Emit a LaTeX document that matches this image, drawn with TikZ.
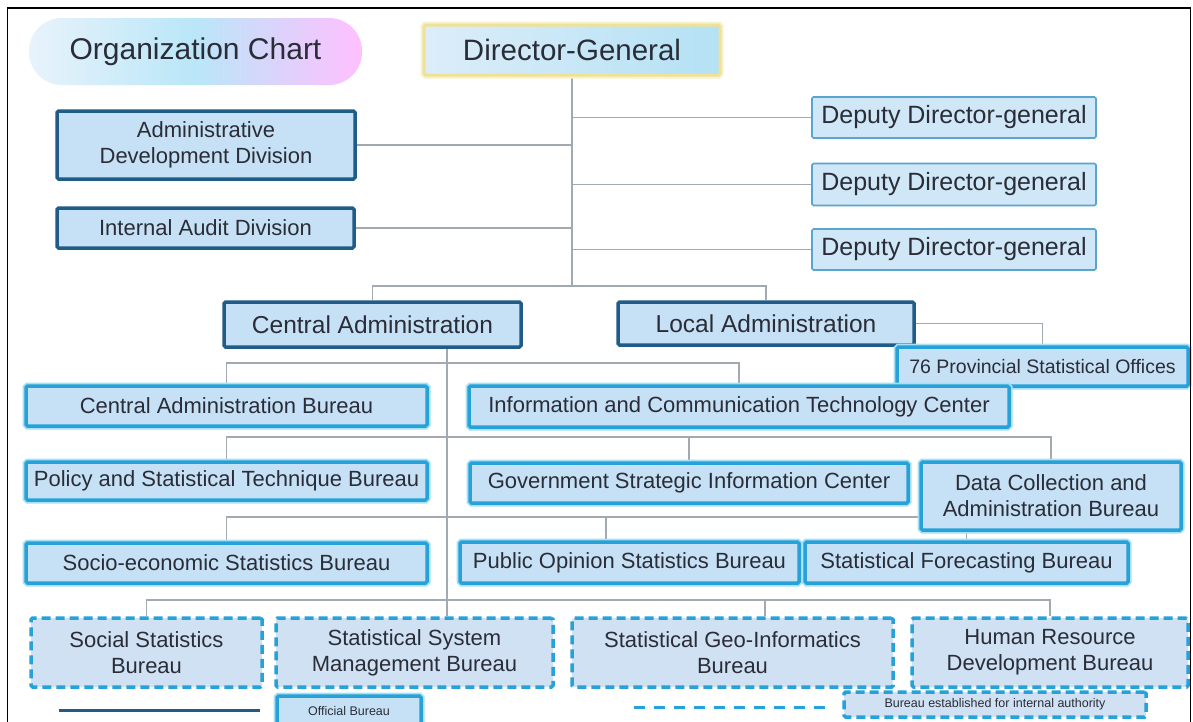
\documentclass[tikz,border=0pt]{standalone}
\usepackage{fontspec}
\setmainfont{Liberation Sans}
\usetikzlibrary{backgrounds}
\definecolor{txt}{HTML}{2A2D38}
\definecolor{darkb}{HTML}{1F5C88}
\definecolor{cyanb}{HTML}{27A2D8}
\definecolor{glow}{HTML}{A8E0F6}
\definecolor{boxfill}{HTML}{C6E1F5}
\definecolor{dashfill}{HTML}{D0E1F3}
\definecolor{depb}{HTML}{5AA5D0}
\definecolor{depfill}{HTML}{CFE7F6}
\definecolor{dgborder}{HTML}{EFE196}
\definecolor{dgglow}{HTML}{F8F2CC}
\definecolor{connc}{HTML}{A3A9B0}
\tikzset{
  box/.style={rectangle, inner sep=0pt, align=center, text=txt, rounded corners=1.5pt,
    font=\fontsize{22}{26}\selectfont},
  darkbox/.style={box, draw=darkb, line width=3.5pt, fill=boxfill},
  cyanbox/.style={box, draw=cyanb, line width=3.5pt, fill=boxfill,
    preaction={draw=glow, line width=7pt}},
  depbox/.style={box, draw=depb, line width=1.6pt, fill=depfill,
    font=\fontsize{25}{29}\selectfont},
  dashbox/.style={box, draw=cyanb, line width=3.5pt, fill=dashfill,
    dash pattern=on 9pt off 5pt},
  dgbox/.style={box, draw=dgborder, line width=3pt, left color=white!40!boxfill,
    right color=glow!70!cyanb!60, font=\fontsize{29.5}{34}\selectfont,
    preaction={draw=dgglow, line width=7pt}},
  ogbox/.style={box, draw=none, rounded corners=33pt, left color=white!60!boxfill,
    right color=magenta!25!white, middle color=glow!80!white,
    font=\fontsize{30}{34}\selectfont},
  conn/.style={draw=connc, line width=1.3pt},
  legsolid/.style={draw=darkb, line width=3pt},
  legdash/.style={draw=cyanb, line width=3pt, dash pattern=on 11pt off 9pt},
}
\begin{document}
\begin{tikzpicture}[x=1pt,y=-1pt]
\useasboundingbox (0,0) rectangle (1193,721);
\clip (0,0) rectangle (1193,721);

% nodes
\node[ogbox, minimum width=333pt, minimum height=67pt] (og) at (195.5,51.5) {Organization Chart};
\node[dgbox, minimum width=296pt, minimum height=50pt] (dg) at (572,50) {Director-General};
\node[darkbox, minimum width=298pt, minimum height=68pt] (adm) at (206,145) {Administrative\\Development Division};
\node[darkbox, minimum width=297pt, minimum height=40pt] (iad) at (205.5,228) {Internal Audit Division};
\node[depbox, minimum width=284pt, minimum height=41pt] (dd1) at (954,117.5) {Deputy Director-general};
\node[depbox, minimum width=284pt, minimum height=42pt] (dd2) at (954,184.5) {Deputy Director-general};
\node[depbox, minimum width=284pt, minimum height=41pt] (dd3) at (954,249.5) {Deputy Director-general};
\node[darkbox, font=\fontsize{24.5}{28}\selectfont, minimum width=297pt, minimum height=45pt] (ca) at (372.5,324.5) {Central Administration};
\node[darkbox, font=\fontsize{24.5}{28}\selectfont, minimum width=296pt, minimum height=43pt] (la) at (766,323.5) {Local Administration};
\node[cyanbox, font=\fontsize{19.5}{23}\selectfont, minimum width=291pt, minimum height=39pt] (pso) at (1042.5,366.5) {76 Provincial Statistical Offices};
\node[cyanbox, minimum width=401pt, minimum height=40pt] (cab) at (226.5,406) {Central Administration Bureau};
\node[cyanbox, minimum width=540pt, minimum height=41pt] (ict) at (739,406.5) {Information and Communication Technology Center};
\node[cyanbox, minimum width=401pt, minimum height=38pt] (psb) at (226.5,481) {Policy and Statistical Technique Bureau};
\node[cyanbox, minimum width=438pt, minimum height=40pt] (gsic) at (689,483) {Government Strategic Information Center};
\node[cyanbox, minimum width=260pt, minimum height=68pt] (dcb) at (1051,496) {Data Collection and\\Administration Bureau};
\node[cyanbox, minimum width=401pt, minimum height=40pt] (ses) at (226.5,563) {Socio-economic Statistics Bureau};
\node[cyanbox, minimum width=339pt, minimum height=41pt] (pos) at (629.5,562.5) {Public Opinion Statistics Bureau};
\node[cyanbox, minimum width=323pt, minimum height=41pt] (sfb) at (966.5,562.5) {Statistical Forecasting Bureau};
\node[dashbox, minimum width=231pt, minimum height=69pt] (ssb) at (146.5,652.5) {Social Statistics\\Bureau};
\node[dashbox, minimum width=277pt, minimum height=69pt] (ssm) at (414.5,652.5) {Statistical System\\Management Bureau};
\node[dashbox, minimum width=321pt, minimum height=69pt] (geo) at (732.5,652.5) {Statistical Geo-Informatics\\Bureau};
\node[dashbox, minimum width=276pt, minimum height=69pt] (hr) at (1050,652.5) {Human Resource\\Development Bureau};
\node[cyanbox, font=\fontsize{12.5}{15}\selectfont, minimum width=144pt, minimum height=30pt] (ofb) at (349,711) {Official Bureau};
\node[dashbox, font=\fontsize{12.5}{15}\selectfont, minimum width=302pt, minimum height=25pt] (bei) at (995,704.5) {Bureau established for internal authority};

% helper coordinates
\coordinate (tA) at (572,286);
\coordinate (tB) at (447,0);
\coordinate (h1) at (0,363);
\coordinate (h2) at (0,437);
\coordinate (h3) at (0,517);
\coordinate (h4) at (0,600);
\coordinate (pdrop) at (606,0);
\coordinate (gdrop) at (765,0);
\coordinate (l1a) at (59,710);
\coordinate (l1b) at (260,710);
\coordinate (l2a) at (634,707);
\coordinate (l2b) at (831,707);

\begin{scope}[on background layer]
\fill[white] (0,0) rectangle (1193,721);
\draw[conn] (dg.south) -- (tA);
\draw[conn] (adm.east) -- (adm.east -| tA);
\draw[conn] (iad.east) -- (iad.east -| tA);
\draw[conn] (dd1.west) -- (dd1.west -| tA);
\draw[conn] (dd2.west) -- (dd2.west -| tA);
\draw[conn] (dd3.west) -- (dd3.west -| tA);
\draw[conn] (ca.north) |- (tA) -| (la.north);
\draw[conn] (la.east) -| (pso.north);
\draw[conn] (ca.south -| tB) -- (ssm.north -| tB);
\draw[conn] (cab.north) -- (cab.north |- h1) -- (ict.north |- h1) -- (ict.north);
\draw[conn] (psb.north) -- (psb.north |- h2) -- (dcb.north |- h2) -- (dcb.north);
\draw[conn] (gsic.north) -- (gsic.north |- h2);
\draw[conn] (ses.north) -- (ses.north |- h3) -- (sfb.north |- h3) -- (sfb.north);
\draw[conn] (pos.north -| pdrop) -- (pdrop |- h3);
\draw[conn] (ssb.north) -- (ssb.north |- h4) -- (hr.north |- h4) -- (hr.north);
\draw[conn] (geo.north -| gdrop) -- (gdrop |- h4);
\end{scope}

% legend lines
\draw[legsolid] (l1a) -- (l1b);
\draw[legdash] (l2a) -- (l2b);

% frame
\draw[black, line width=1.8pt] (7.5,8) rectangle (1190.5,726);
\end{tikzpicture}
\end{document}
